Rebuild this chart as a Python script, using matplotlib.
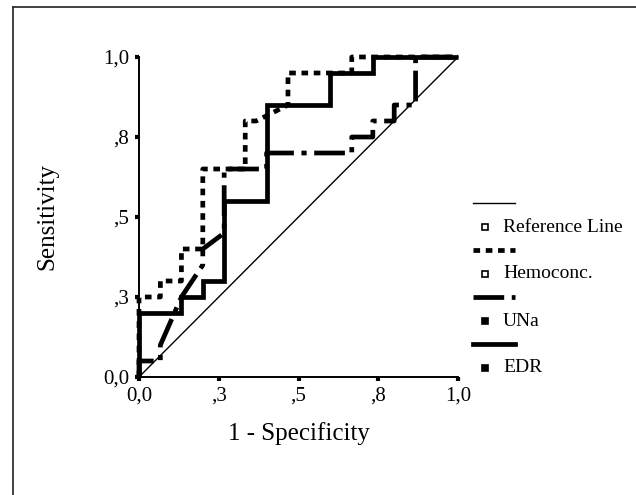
import matplotlib.pyplot as plt
from matplotlib.lines import Line2D

# ROC data (1 - specificity, sensitivity)
ref_x = [0.0, 1.0]
ref_y = [0.0, 1.0]

hemo_x = [0.0, 0.0, 0.067, 0.067, 0.133, 0.133, 0.2, 0.2, 0.333, 0.333, 0.367, 0.467, 0.467, 0.667, 0.667, 1.0]
hemo_y = [0.0, 0.25, 0.25, 0.3, 0.3, 0.4, 0.4, 0.65, 0.65, 0.8, 0.8, 0.85, 0.95, 0.95, 1.0, 1.0]

una_x = [0.0, 0.0, 0.067, 0.067, 0.133, 0.2, 0.2, 0.267, 0.267, 0.4, 0.4, 0.667, 0.667, 0.733, 0.733, 0.8, 0.8, 0.867, 0.867, 1.0]
una_y = [0.0, 0.05, 0.05, 0.1, 0.25, 0.35, 0.4, 0.45, 0.65, 0.65, 0.7, 0.7, 0.75, 0.75, 0.8, 0.8, 0.85, 0.85, 1.0, 1.0]

edr_x = [0.0, 0.0, 0.133, 0.133, 0.2, 0.2, 0.267, 0.267, 0.4, 0.4, 0.6, 0.6, 0.733, 0.733, 1.0]
edr_y = [0.0, 0.2, 0.2, 0.25, 0.25, 0.3, 0.3, 0.55, 0.55, 0.85, 0.85, 0.95, 0.95, 1.0, 1.0]

ticks = [0.0, 0.25, 0.5, 0.75, 1.0]
tick_labels = ['0,0', ',3', ',5', ',8', '1,0']

legend_names = ['Reference Line', 'Hemoconc.', 'UNa', 'EDR']

plt.rcParams['font.family'] = ['Liberation Serif', 'DejaVu Serif']

W, H = 636, 495
fig = plt.figure(figsize=(W / 100, H / 100), dpi=100)
ax = fig.add_axes([139 / W, 1 - 377 / H, 319 / W, 320 / H])

lw = 3.4
dot = [1.4, 1.2]
dashdot = [6.5, 1.6, 1.1, 1.6]

ax.plot(ref_x, ref_y, color='black', lw=1.0, clip_on=False)
hemo, = ax.plot(hemo_x, hemo_y, color='black', lw=lw, clip_on=False,
                dash_capstyle='butt', solid_joinstyle='miter')
hemo.set_dashes(dot)
una, = ax.plot(una_x, una_y, color='black', lw=lw, clip_on=False,
               dash_capstyle='butt', solid_joinstyle='miter')
una.set_dashes(dashdot)
ax.plot(edr_x, edr_y, color='black', lw=lw, clip_on=False,
        solid_capstyle='butt', solid_joinstyle='miter')

ax.set_xlim(0, 1)
ax.set_ylim(0, 1)
ax.set_xticks(ticks)
ax.set_xticklabels(tick_labels)
ax.set_yticks(ticks)
ax.set_yticklabels(tick_labels)
ax.tick_params(direction='out', length=3, width=3, labelsize=15, pad=4)
for s in ['top', 'right']:
    ax.spines[s].set_visible(False)
for s in ['left', 'bottom']:
    ax.spines[s].set_linewidth(1.4)
ax.set_xlabel('1 - Specificity', fontsize=18, labelpad=12)
ax.set_ylabel('Sensitivity', fontsize=18, labelpad=32)

# legend drawn by hand: line sample above, square + label below
styles = [dict(lw=1.0), dict(lw=lw, dashes=dot),
          dict(lw=lw, dashes=dashdot), dict(lw=lw)]
fills = ['white', 'white', 'black', 'black']
line_y = [203, 250, 297, 344]
for name, st, fc, ly in zip(legend_names, styles, fills, line_y):
    fig.add_artist(Line2D([473 / W, 515 / W], [1 - ly / H, 1 - ly / H],
                          color='black', dash_capstyle='butt', **st))
    ty = 1 - (ly + 24) / H
    fig.add_artist(Line2D([485 / W], [ty], marker='s', markersize=5,
                          markerfacecolor=fc, markeredgecolor='black',
                          markeredgewidth=1.2, linestyle='none'))
    fig.text(503 / W, ty, name, fontsize=14, va='center', ha='left')

# outer frame (only top and left edges visible in the crop)
fig.add_artist(Line2D([13 / W, 1.0], [1 - 7 / H, 1 - 7 / H], color='#333333', lw=1.3))
fig.add_artist(Line2D([13 / W, 13 / W], [0.0, 1 - 7 / H], color='#333333', lw=1.3))

fig.savefig('out.png', dpi=100)
